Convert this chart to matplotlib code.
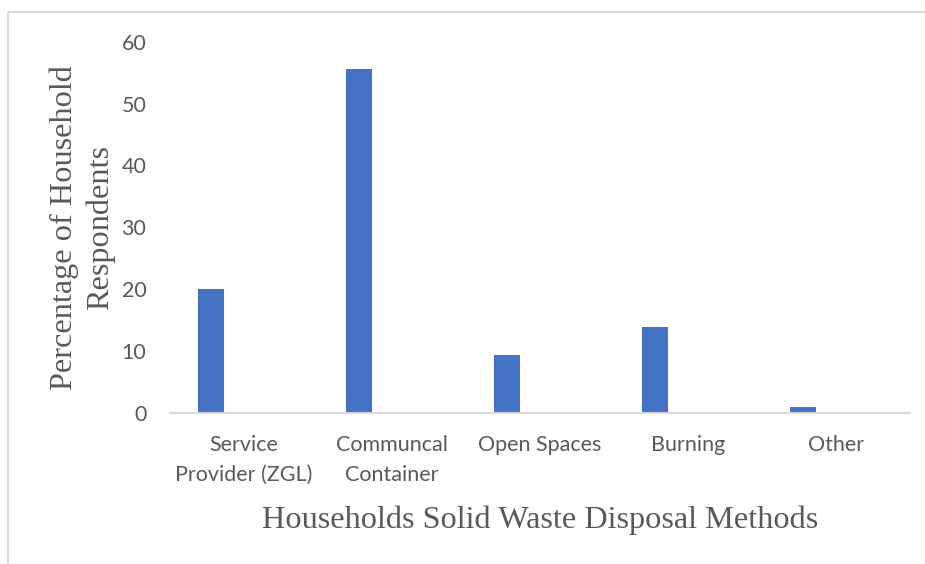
import numpy as np
import matplotlib
matplotlib.use("Agg")
import matplotlib.pyplot as plt
from matplotlib.patches import Rectangle

# data
methods = ["Service\nProvider (ZGL)", "Communcal\nContainer", "Open Spaces", "Burning", "Other"]
percent = [20.0, 55.6, 9.3, 13.9, 1.0]
yticks = [0, 10, 20, 30, 40, 50, 60]

bar_col = "#4472C4"
txt_col = "#595959"
line_col = "#D9D9D9"

fig = plt.figure(figsize=(9.25, 5.64), dpi=100)
ax = fig.add_axes([170/925, 1-412.7/564, 740/925, (412.7-41.7)/564])

x = np.arange(len(methods))
ax.bar(x - 0.223, percent, width=0.174, color=bar_col)

ax.set_xlim(-0.5, len(methods) - 0.5)
ax.set_ylim(0, 60)
ax.set_yticks(yticks)
ax.set_xticks(x)
ax.set_xticklabels(methods, fontfamily="Lato", fontsize=15.5, color=txt_col, linespacing=1.63)
ax.set_yticklabels([str(v) for v in yticks], fontfamily="Lato", fontsize=15.5, color=txt_col)
ax.tick_params(axis="both", length=0)
ax.tick_params(axis="y", pad=17)
ax.tick_params(axis="x", pad=16)

for s in ["top", "right", "left"]:
    ax.spines[s].set_visible(False)
ax.spines["bottom"].set_color(line_col)
ax.spines["bottom"].set_linewidth(1.5)

ax.set_xlabel("Households Solid Waste Disposal Methods", fontfamily="Liberation Serif",
              fontsize=23.2, color=txt_col, labelpad=15)
ax.set_ylabel("Percentage of Household\nRespondents", fontfamily="Liberation Serif",
              fontsize=23.2, color=txt_col, labelpad=5, linespacing=1.28)

# chart area border (Excel style)
fig.patches.append(Rectangle((8/925, -0.1), 1.2, 1 - 11.7/564 + 0.1, transform=fig.transFigure,
                             fill=False, edgecolor=line_col, linewidth=1.5))

fig.savefig("out.png", dpi=100)
